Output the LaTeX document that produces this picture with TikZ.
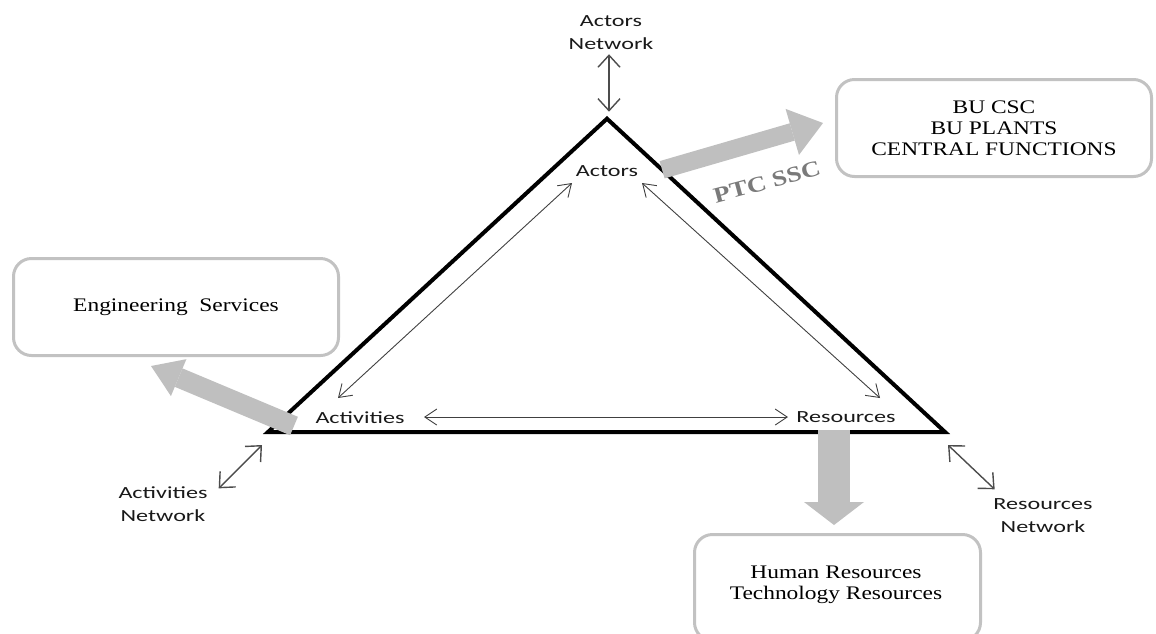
\documentclass[tikz,border=0pt]{standalone}
\usepackage{fontspec}
\setmainfont{Liberation Serif}
\newfontfamily\labfont[FakeStretch=1.42]{Carlito}
\newfontfamily\cardfont[FakeStretch=1.22]{Liberation Serif}
\usetikzlibrary{arrows.meta,calc}

\begin{document}
\begin{tikzpicture}[x=1pt,y=-1pt,
  tri/.style={draw=black,line width=4pt,line join=miter},
  lab/.style={font=\labfont\fontsize{17}{23}\selectfont,text=black!90,align=center,inner sep=0pt},
  card/.style={draw=black!24,line width=3pt,rounded corners=18pt},
  cardtext/.style={font=\cardfont\fontsize{19.2}{21}\selectfont,align=center,inner sep=0pt},
  link/.style={draw=black!75,line width=0.9pt,
    {Straight Barb[length=12pt,width=16pt]}-{Straight Barb[length=12pt,width=16pt]}},
  netlink/.style={draw=black!70,line width=1.4pt,
    {Straight Barb[length=12pt,width=22pt]}-{Straight Barb[length=12pt,width=22pt]}},
  fat/.style={draw=black!25,line width=#1,line cap=butt}
]
\useasboundingbox (0,0) rectangle (1156,633);

% triangle corners
\coordinate (apex) at (607,118.7);
\coordinate (bl) at (268,432);
\coordinate (br) at (945,432);
\draw[tri] (apex) -- (br) -- (bl) -- cycle;

% labels at the corners
\node[lab,anchor=base] (actors) at (607,176) {Actors};
\node[lab,anchor=base] (activities) at (360,423) {Activities};
\node[lab,anchor=base] (resources) at (846,422) {Resources};
\node[lab] (actnet) at (611,32.5) {Actors\\Network};
\node[lab] (activnet) at (163,504) {Activities\\Network};
\node[lab] (resnet) at (1043,515.5) {Resources\\Network};

% boxes
\node[card,cardtext,minimum width=315pt,minimum height=97pt] (csc) at (994,128)
  {BU CSC\\BU PLANTS\\CENTRAL FUNCTIONS};
\node[card,cardtext,minimum width=325pt,minimum height=97pt] (eng) at (176,307)
  {Engineering\ \ Services};
\node[card,minimum width=286pt,minimum height=106pt] (hr) at (837.5,587.5) {};
\node[cardtext] (hrtext) at (836,585) {Human Resources\\Technology Resources};

% links inside the triangle
\draw[link] ([shift={(-35,7)}]actors.base) -- ([shift={(-22,-25)}]activities.base);
\draw[link] ([shift={(35,7)}]actors.base) -- ([shift={(34,-24)}]resources.base);
\draw[link] ([shift={(64,-6)}]activities.base) -- ([shift={(-58,-5)}]resources.base);

% links to the networks
\draw[netlink] ([shift={(-2,4.5)}]actnet.south) -- ([shift={(2,-7)}]apex);
\draw[netlink] ([shift={(11,2)}]activnet.north east) -- ([shift={(-6,13)}]bl);
\draw[netlink] ([shift={(3,13)}]br) -- ([shift={(1.5,-9)}]resnet.north west);

% wide grey arrows
\draw[fat=18pt,-{Triangle[length=32pt,width=48pt,line width'=0pt]}]
  ($(apex)!0.163!(br)$) -- ([shift={(-12,-5)}]csc.west);
\draw[fat=20pt,-{Triangle[length=30pt,width=40pt,line width'=0pt]}]
  ([shift={(26,-6)}]bl) -- ([shift={(-25,9)}]eng.south);
\draw[fat=32pt,-{Triangle[length=23pt,width=60pt,line width'=0pt]}]
  ([shift={(-12,8)}]resources.base) -- ([shift={(-3.5,-8)}]hr.north);

\node[font=\cardfont\bfseries\fontsize{22}{22}\selectfont,text=black!52,rotate=15] (ptc) at (767,182) {PTC SSC};
\end{tikzpicture}
\end{document}
